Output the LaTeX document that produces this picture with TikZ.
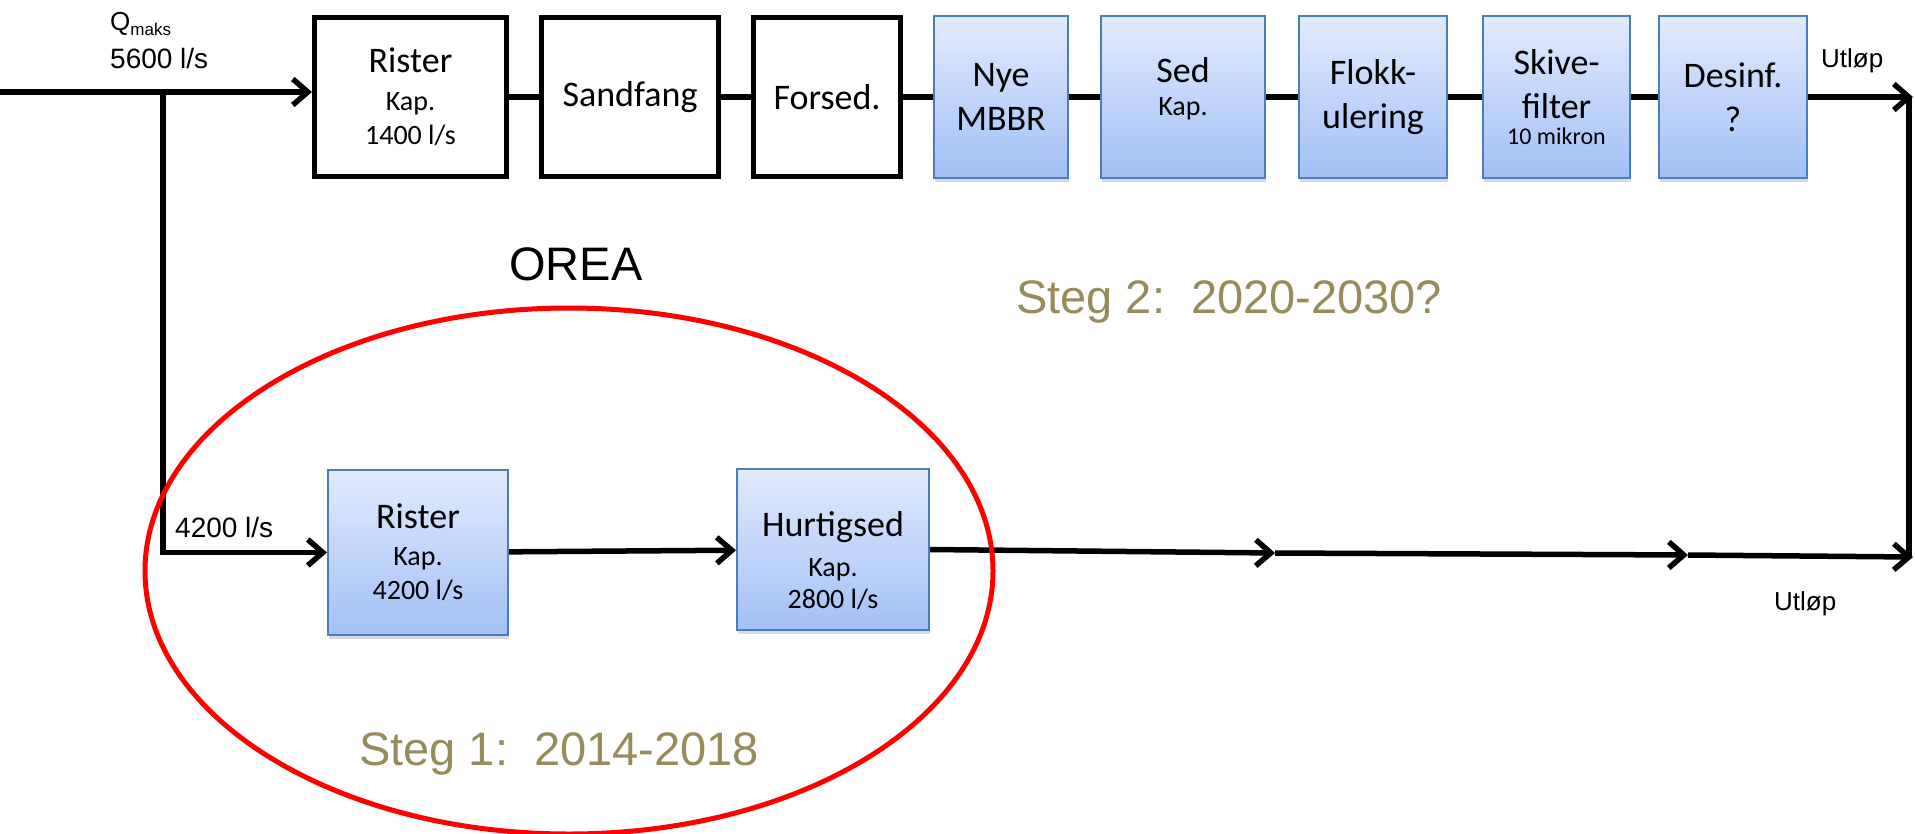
\documentclass[tikz,border=0pt]{standalone}
\usepackage{fontspec}
\setmainfont{Liberation Sans}
\newfontfamily\boxfont{Carlito}
\usetikzlibrary{arrows.meta,shadows,backgrounds}
\definecolor{stegcol}{RGB}{151,140,89}
\definecolor{bluetop}{RGB}{225,235,253}
\definecolor{bluebot}{RGB}{162,192,246}
\definecolor{bluebd}{RGB}{74,126,187}
\tikzset{
  flow/.style={line width=5.5pt, black},
  arr/.style={flow, -{Straight Barb[length=15pt,width=26pt]}},
  wbox/.style={draw=black, line width=5pt, fill=white, minimum height=159pt, inner sep=0pt, align=center, font=\boxfont\fontsize{36}{44}\selectfont},
  bbox/.style={draw=bluebd, line width=2pt, top color=bluetop, bottom color=bluebot, minimum height=162pt, inner sep=0pt, align=center, font=\boxfont\fontsize{36}{44}\selectfont, drop shadow={shadow xshift=1pt, shadow yshift=-4pt, opacity=0.3}},
  threeline/.style={font=\boxfont\fontsize{28}{34}\selectfont},
  lbl/.style={anchor=base west, inner sep=0pt, font=\fontsize{28}{34}\selectfont},
  small/.style={anchor=base west, inner sep=0pt, font=\fontsize{26}{30}\selectfont},
  steg/.style={anchor=base west, inner sep=0pt, text=stegcol, font=\fontsize{47}{56}\selectfont},
}
\begin{document}
\begin{tikzpicture}[x=1pt,y=-1pt]
\useasboundingbox (0,0) rectangle (1915,833);
% coordinates
\coordinate (in) at (0,92);
\coordinate (split) at (163,89.5);
\coordinate (vtop) at (1909,97);
\coordinate (out1) at (1913,97);
\coordinate (m1) at (1275,553);
\coordinate (m2) at (1688,555);
\coordinate (out2) at (1913,557);
\coordinate (vbot) at (1909,557);
% top boxes
\node[wbox, threeline, minimum width=192pt] (rister1) at (410.5,97) {{\fontsize{36}{44}\selectfont Rister}\\[4pt]Kap.\\1400 l/s};
\node[wbox, minimum width=177pt] (sandfang) at (630,97) {Sandfang};
\node[wbox, minimum width=147pt] (forsed) at (827,97) {Forsed.};
\node[bbox, minimum width=134pt] (nye) at (1001,97) {Nye\\MBBR};
\node[bbox, minimum width=164pt] (sed) at (1183,97) {\begin{tabular}{@{}c@{}}Sed\\[-11pt]{\fontsize{28}{34}\selectfont Kap.}\rule[-26pt]{0pt}{26pt}\end{tabular}};
\node[bbox, minimum width=148pt] (flokk) at (1373,97) {Flokk-\\ulering};
\node[bbox, minimum width=147pt] (skive) at (1556.5,97) {Skive-\\filter\\[-18pt]{\fontsize{24}{29}\selectfont 10 mikron}};
\node[bbox, minimum width=148pt] (desinf) at (1733,97) {Desinf.\\?};
% bottom boxes
\node[bbox, threeline, minimum width=180pt, minimum height=165pt] (rister2) at (418,552.5) {{\fontsize{36}{44}\selectfont Rister}\\[3pt]Kap.\\4200 l/s};
\node[bbox, minimum width=192pt, minimum height=161pt] (hurtig) at (833,549.5) {{\fontsize{28}{34}\selectfont\begin{tabular}{@{}c@{}}\rule{0pt}{57pt}{\fontsize{36}{44}\selectfont Hurtigsed}\\[6pt]Kap.\\[-2pt]2800 l/s\end{tabular}}};
% connectors
\begin{scope}[on background layer]
\draw[arr] (in) -- (in -| rister1.west);
\draw[flow] (rister1) -- (sandfang);
\draw[flow] (sandfang) -- (forsed);
\draw[flow] (forsed) -- (nye);
\draw[flow] (nye) -- (sed);
\draw[flow] (sed) -- (flokk);
\draw[flow] (flokk) -- (skive);
\draw[flow] (skive) -- (desinf);
\draw[arr] (desinf) -- (out1);
\draw[flow] (vtop) -- (vbot);
\draw[arr] (split) |- (rister2.west);
\draw[arr] (rister2) -- (hurtig);
\draw[arr] (hurtig.east) -- (m1);
\draw[arr] (m1) -- (m2);
\draw[arr] (m2) -- (out2);
\end{scope}
% ellipse
\draw[red, line width=5pt] (569,571) ellipse [x radius=424pt, y radius=263pt];
% labels
\node[anchor=base west, inner sep=0pt] (qmaks) at (110,30) {{\fontsize{26}{30}\selectfont Q}\raisebox{-5pt}{\fontsize{17}{20}\selectfont maks}};
\node[lbl] (q5600) at (110,68) {5600 l/s};
\node[lbl] (q4200) at (175,537) {4200 l/s};
\node[small] (utl1) at (1821,67) {Utløp};
\node[small] (utl2) at (1774,610) {Utløp};
\node[anchor=base west, inner sep=0pt, font=\fontsize{47}{56}\selectfont] (orea) at (509,280) {OREA};
\node[steg] (steg2) at (1016,313) {Steg 2:~~2020-2030?};
\node[steg] (steg1) at (359,765) {Steg 1:~~2014-2018};
\end{tikzpicture}
\end{document}
